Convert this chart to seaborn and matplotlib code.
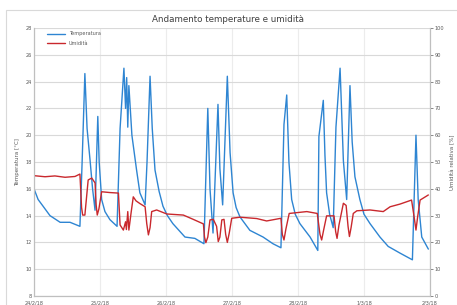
import pandas as pd
import numpy as np
import matplotlib
matplotlib.use("Agg")
import matplotlib.pyplot as plt
import matplotlib.dates as mdates
from matplotlib.patches import Rectangle
import seaborn as sns

# Data: hours since 24/2/18 00:00
temp_hours = [0, 1.5, 3.3, 5.8, 9.5, 13.1, 16.7, 17.5, 18.5, 19.3, 20.4, 21.3, 22.2, 23.2, 23.7,
              24.6, 25.8, 27.6, 30.2, 31.3, 32.7, 33.3, 33.7, 34.1, 34.5, 35.6, 37.3, 38.5, 40.4,
              41.1, 42.2, 43.0, 44.0, 45.5, 46.9, 48.5, 50.5, 54.9, 58.5, 61.8, 63.2, 64.0,
              65.1, 66.9, 67.6, 68.6, 70.3, 71.3, 72.4, 73.5, 74.9, 78.5, 83.3, 86.9, 89.8, 90.9,
              91.9, 92.7, 93.7, 95.0, 96.7, 100.4, 103.2, 103.6, 105.2, 105.8, 106.4, 107.5, 108.8, 109.8,
              111.3, 112.5, 113.7, 114.9, 115.7, 116.7, 118.5, 120.0, 122.2, 125.8, 128.8, 133.1,
              137.6, 138.9, 139.7, 141.0, 143.4]
temp_values = [16.0, 15.2, 14.7, 14.0, 13.5, 13.5, 13.2, 18.0, 24.6, 20.5, 18.1, 16.0, 14.4, 21.4, 18.0,
               15.2, 14.3, 13.7, 13.2, 20.5, 25.0, 22.0, 24.3, 20.6, 23.7, 20.0, 17.4, 15.7, 14.8,
               18.0, 24.4, 20.5, 17.4, 15.8, 14.7, 14.0, 13.4, 12.4, 12.3, 11.9, 22.0, 16.0,
               12.7, 22.3, 17.5, 14.8, 24.4, 18.7, 15.7, 14.6, 13.9, 12.9, 12.4, 11.9, 11.6, 20.8,
               23.0, 18.0, 15.2, 14.1, 13.4, 12.4, 11.4, 19.9, 22.6, 18.5, 15.7, 14.1, 13.1, 20.6,
               25.0, 18.1, 15.2, 23.7, 19.5, 16.9, 15.2, 14.1, 13.4, 12.4, 11.7, 11.2,
               10.7, 20.0, 15.2, 12.4, 11.5]

hum_hours = [0, 4, 7.6, 11.3, 14.9, 16.7, 17.3, 17.7, 18.5, 19.7, 21.0, 22.2, 22.6, 23.0, 23.6, 24.6,
             27.6, 30.7, 31.3, 32.5, 33.3, 33.6, 34.1, 34.5, 35.3, 36.1, 37.1, 38.5, 40.4, 41.0,
             41.6, 42.2, 42.8, 44.6, 48.3, 54.3, 57.9, 61.6, 62.0, 62.5, 63.2, 64.0, 65.2, 66.4,
             67.0, 67.6, 68.3, 69.1, 69.7, 70.3, 71.0, 71.9, 74.9, 81.0, 84.6, 89.8, 90.3, 90.9,
             91.6, 92.8, 99.2, 103.0, 104.0, 104.6, 105.3, 106.4, 109.1, 109.7, 110.2, 110.9,
             112.5, 113.5, 114.2, 114.7, 115.3, 116.1, 117.4, 122.2, 127.0, 129.5, 133.1, 137.3,
             138.3, 138.9, 139.5, 140.4, 143.4]
hum_values = [44.9, 44.5, 44.8, 44.3, 44.6, 45.5, 33.0, 30.2, 30.2, 43.3, 44.0, 42.2, 34.0, 30.2, 32.5, 38.9,
              38.6, 38.4, 26.5, 24.6, 27.7, 24.8, 31.5, 24.6, 31.0, 37.0, 35.5, 34.5, 33.3, 27.0,
              22.8, 25.5, 31.5, 32.1, 30.6, 30.2, 28.6, 26.9, 22.0, 19.9, 22.0, 28.4, 28.6, 26.0,
              20.3, 22.0, 28.4, 28.6, 23.0, 20.0, 23.5, 29.0, 29.4, 28.9, 28.0, 29.0, 23.0, 20.9,
              25.0, 30.8, 31.5, 30.8, 23.0, 20.9, 24.5, 29.9, 29.9, 24.0, 21.5, 26.5,
              34.6, 33.8, 26.0, 22.2, 25.5, 30.8, 31.8, 32.1, 31.5, 33.3, 34.3, 35.8,
              29.0, 24.6, 29.5, 35.8, 37.7]

start = pd.Timestamp("2018-02-24")
temp_df = pd.DataFrame({"time": start + pd.to_timedelta(temp_hours, unit="h"), "temp": temp_values})
hum_df = pd.DataFrame({"time": start + pd.to_timedelta(hum_hours, unit="h"), "hum": hum_values})

blue = "#2e85d2"
red = "#c9282d"
grid_col = "#d9d9d9"
text_col = "#595959"

sns.set_style("white")
plt.rcParams["font.family"] = ["DejaVu Sans"]

fig = plt.figure(figsize=(4.57, 3.05), dpi=100)
ax = fig.add_axes([34 / 457, 9 / 305, 396 / 457, 268 / 305])
ax2 = ax.twinx()

# chart area border
fig.patches.append(Rectangle((6 / 457, -0.01), 1.0, (305 - 10) / 305 + 0.01, transform=fig.transFigure,
                             fill=False, edgecolor="#d9d9d9", linewidth=0.8))

sns.lineplot(data=temp_df, x="time", y="temp", ax=ax, color=blue, linewidth=1.0, label="Temperatura")
sns.lineplot(data=hum_df, x="time", y="hum", ax=ax2, color=red, linewidth=1.0, label="Umidità")

ax.set_xlim(pd.Timestamp("2018-02-24"), pd.Timestamp("2018-03-02"))
ax.set_ylim(8, 28)
ax.set_yticks(np.arange(8, 29, 2))
ax2.set_ylim(0, 100)
ax2.set_yticks(np.arange(0, 101, 10))

ax.xaxis.set_major_locator(mdates.DayLocator())
ax.xaxis.set_major_formatter(plt.FuncFormatter(
    lambda v, p: "{}/{}/{}".format(mdates.num2date(v).day, mdates.num2date(v).month, mdates.num2date(v).strftime("%y"))))

ax.grid(True, axis="y", color=grid_col, linewidth=0.8)
ax.grid(True, axis="x", color="#ececec", linewidth=0.8)
ax.set_axisbelow(True)

for a in (ax, ax2):
    a.tick_params(labelsize=3.6, colors=text_col, length=2, width=0.5, pad=1.5)
    for s in a.spines.values():
        s.set_color("#bfbfbf")
        s.set_linewidth(0.8)
    a.spines["top"].set_visible(False)
ax.tick_params(axis="y", length=0)

ax.set_xlabel("")
ax.set_ylabel("Temperatura [°C]", fontsize=4, color=text_col, labelpad=4)
ax2.set_ylabel("Umidità relativa [%]", fontsize=4, color=text_col, rotation=90, labelpad=4)

fig.suptitle("Andamento temperature e umidità", fontsize=6.3, color="#404040", y=0.95)

# combined legend
h1, l1 = ax.get_legend_handles_labels()
h2, l2 = ax2.get_legend_handles_labels()
ax2.get_legend().remove()
ax.legend(h1 + h2, l1 + l2, loc="upper left", bbox_to_anchor=(0.025, 1.0), frameon=False,
          fontsize=3.6, handlelength=3.5, labelcolor=text_col, borderaxespad=0.3, labelspacing=0.9)

fig.savefig("out.png", dpi=100)
